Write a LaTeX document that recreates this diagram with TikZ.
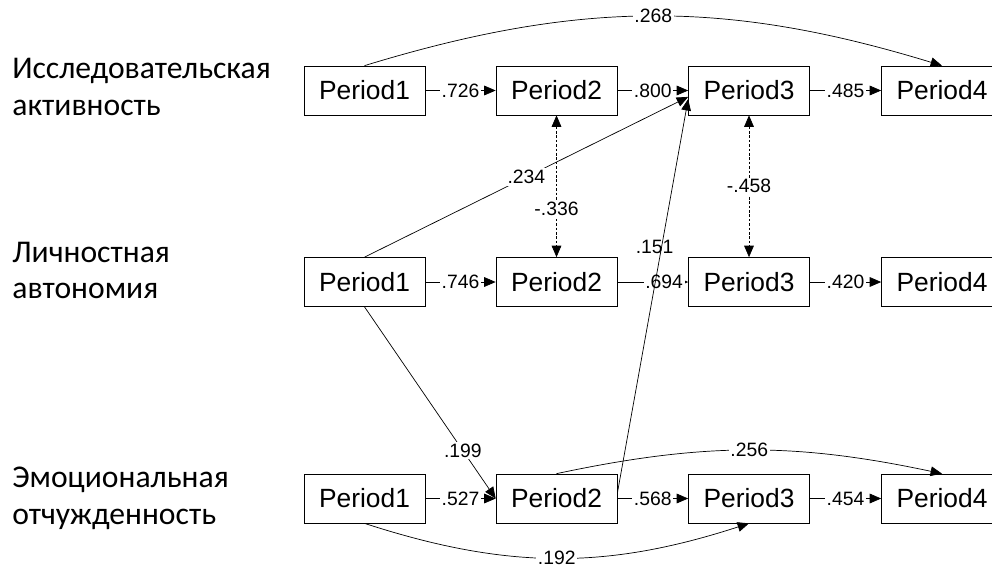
\documentclass[tikz,border=0pt]{standalone}
\usepackage{fontspec}
\setmainfont{Liberation Sans}
\newfontfamily\rusfont{Carlito}
\usetikzlibrary{arrows.meta}

\begin{document}
\begin{tikzpicture}[->,>={Triangle[length=6.5pt,width=5.5pt]},thin,
  var node/.style={draw,minimum width=2.42cm,minimum height=0.98cm,inner sep=0pt,font=\fontsize{15}{17}\selectfont},
  scale node/.style={anchor=west,inner sep=0pt,align=left,font=\rusfont\fontsize{18}{21}\selectfont},
  coef/.style={fill=white,inner sep=1pt,font=\fontsize{11}{13}\selectfont}]
  \useasboundingbox (0,0) rectangle (19.84,11.36);

  % scale names
  \node[scale node] (s1) at (0.24,9.62) {Исследовательская\\активность};
  \node[scale node] (s2) at (0.24,5.95) {Личностная\\автономия};
  \node[scale node] (s3) at (0.24,1.40) {Эмоциональная\\отчужденность};

  % measurements
  \node[var node] (P1a) at (7.29,9.55) {Period1};
  \node[var node] (P2a) at (11.13,9.55) {Period2};
  \node[var node] (P3a) at (14.98,9.55) {Period3};
  \node[var node] (P4a) at (18.84,9.55) {Period4};
  \node[var node] (P1b) at (7.29,5.72) {Period1};
  \node[var node] (P2b) at (11.13,5.72) {Period2};
  \node[var node] (P3b) at (14.98,5.72) {Period3};
  \node[var node] (P4b) at (18.84,5.72) {Period4};
  \node[var node] (P1c) at (7.29,1.39) {Period1};
  \node[var node] (P2c) at (11.13,1.39) {Period2};
  \node[var node] (P3c) at (14.98,1.39) {Period3};
  \node[var node] (P4c) at (18.84,1.39) {Period4};

\path[every node/.style={coef}]
  (P1a) edge node {.726} (P2a)
  (P2a) edge node {.800} (P3a.west)
  (P3a) edge node {.485} (P4a)
  (P1a.north) edge [bend left=17] node {.268} (P4a.north)
  (P1b) edge node {.746} (P2b)
  (P2b) edge node [pos=0.66] {.694} (P3b)
  (P3b) edge node {.420} (P4b)
  (P1b.north) edge node {.234} (P3a.186)
  (P1b.south) edge node [pos=0.75] {.199} (P2c.west)
  (P1c) edge node {.527} (P2c)
  (P2c) edge node {.568} (P3c)
  (P3c) edge node {.454} (P4c)
  (P2c.north) edge [bend left=12] node {.256} (P4c.north)
  (P1c.south) edge [bend right=18] node {.192} (P3c.south)
  (P2a.south) edge [<->,dash pattern=on 1.5pt off 1pt] node [pos=0.66] {-.336} (P2b.north)
  (P3a.south) edge [<->,dash pattern=on 1.5pt off 1pt] node {-.458} (P3b.north)
;
\path (P2c.5) edge node [pos=0.625,xshift=-4pt,fill=none,inner sep=1pt,font=\fontsize{11}{13}\selectfont] {.151} (P3a.188);
\end{tikzpicture}
\end{document}
